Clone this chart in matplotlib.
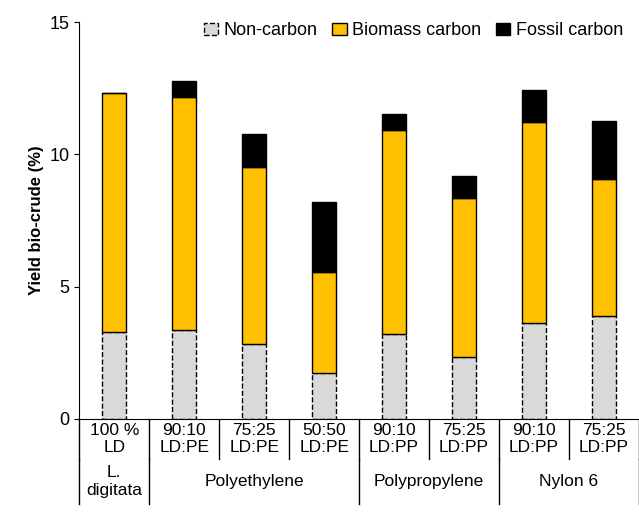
import matplotlib
matplotlib.use("Agg")
import matplotlib.pyplot as plt
import numpy as np

plt.rcParams["font.family"] = ["Liberation Sans", "DejaVu Sans"]

labels = ["100 %\nLD", "90:10\nLD:PE", "75:25\nLD:PE", "50:50\nLD:PE",
          "90:10\nLD:PP", "75:25\nLD:PP", "90:10\nLD:PP", "75:25\nLD:PP"]
groups = ["L.\ndigitata", "Polyethylene", "Polypropylene", "Nylon 6"]
group_span = [(0, 0), (1, 3), (4, 5), (6, 7)]
non_carbon = np.array([3.29, 3.36, 2.83, 1.74, 3.21, 2.34, 3.63, 3.89])
biomass = np.array([9.03, 8.80, 6.69, 3.81, 7.71, 6.01, 7.59, 5.18])
fossil = np.array([0.0, 0.61, 1.25, 2.65, 0.60, 0.83, 1.21, 2.19])

fig = plt.figure(figsize=(6.39, 5.25), dpi=100)
ax = fig.add_axes([0.124, 0.202, 0.876, 0.756])
x = np.arange(len(labels))
w = 0.34
ax.bar(x, non_carbon, w, color="#d9d9d9", edgecolor="black", linestyle="--", linewidth=1, label="Non-carbon")
ax.bar(x, biomass, w, bottom=non_carbon, color="#ffc000", edgecolor="black", linewidth=1, label="Biomass carbon")
ax.bar(x, fossil, w, bottom=non_carbon + biomass, color="black", edgecolor="black", linewidth=1, label="Fossil carbon")

ax.set_xlim(-0.5, 7.5)
ax.set_ylim(0, 15)
ax.set_yticks([0, 5, 10, 15])
ax.tick_params(axis="y", labelsize=13, direction="out")
ax.set_xticks([])
for s in ["top", "right"]:
    ax.spines[s].set_visible(False)
ax.set_ylabel("Yield bio-crude (%)", fontsize=12, fontweight="bold")

tr = ax.get_xaxis_transform()
r1, r2 = -0.101, -0.215
for i, lab in enumerate(labels):
    ax.text(i, r1 / 2, lab, transform=tr, ha="center", va="center", fontsize=12.5)
for k in range(len(labels) + 1):
    ax.plot([k - 0.5, k - 0.5], [0, r1], transform=tr, color="black", lw=1, clip_on=False)
for (a, b), g in zip(group_span, groups):
    ax.plot([a - 0.5, a - 0.5], [r1, r2], transform=tr, color="black", lw=1, clip_on=False)
    ax.text((a + b) / 2, (r1 + r2) / 2, g, transform=tr, ha="center", va="center", fontsize=12.5)
ax.plot([7.5, 7.5], [r1, r2], transform=tr, color="black", lw=1, clip_on=False)

ax.legend(loc="upper right", bbox_to_anchor=(1.0, 1.04), ncol=3, frameon=False, fontsize=13,
          handlelength=0.8, handletextpad=0.3, columnspacing=0.8)
fig.savefig("out.png", dpi=100)
